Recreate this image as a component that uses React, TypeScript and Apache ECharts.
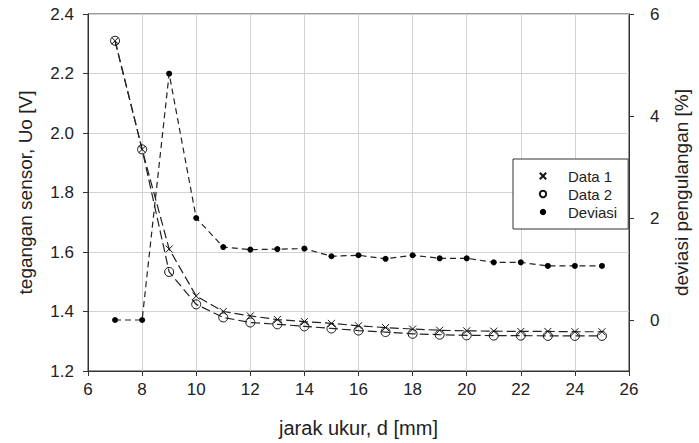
import React, { useEffect, useRef } from "react";
import * as echarts from "echarts";

const distances = [7, 8, 9, 10, 11, 12, 13, 14, 15, 16, 17, 18, 19, 20, 21, 22, 23, 24, 25];
const data1 = [2.31, 1.945, 1.61, 1.452, 1.4, 1.385, 1.373, 1.366, 1.36, 1.352, 1.346, 1.341, 1.337, 1.335, 1.334, 1.333, 1.333, 1.332, 1.332];
const data2 = [2.31, 1.945, 1.533, 1.424, 1.38, 1.363, 1.357, 1.35, 1.343, 1.336, 1.331, 1.325, 1.322, 1.32, 1.319, 1.319, 1.318, 1.318, 1.318];
const deviasi = [0, 0, 4.83, 2.0, 1.43, 1.38, 1.39, 1.4, 1.25, 1.27, 1.2, 1.27, 1.21, 1.21, 1.13, 1.13, 1.06, 1.06, 1.06];
const rightTicks = [0, 2, 4, 6];

const FONT = "Liberation Sans, Arial, sans-serif";
const CROSS = "path://M0,0L10,10M10,0L0,10";

export default function App() {
  const ref = useRef<HTMLDivElement>(null);
  useEffect(() => {
    if (!ref.current) return;
    const chart = echarts.init(ref.current, undefined, { renderer: "svg" });
    const pairs = (ys: number[]) => distances.map((x, i) => [x, ys[i]]);
    chart.setOption({
      animation: false,
      backgroundColor: "#fff",
      textStyle: { fontFamily: FONT },
      grid: {
        left: 88,
        right: 62,
        top: 14,
        bottom: 69,
        show: true,
        borderColor: "#333",
        borderWidth: 1,
        backgroundColor: "transparent",
      },
      legend: {
        orient: "vertical",
        left: 513,
        top: 159,
        padding: [9, 11, 9, 9],
        itemGap: 2,
        itemWidth: 40,
        itemHeight: 8,
        borderColor: "#333",
        borderWidth: 1,
        backgroundColor: "#fff",
        lineStyle: { opacity: 0 },
        textStyle: { fontSize: 15, color: "#222", fontFamily: FONT, lineHeight: 16 },
        data: ["Data 1", "Data 2", "Deviasi"],
      },
      xAxis: {
        type: "value",
        min: 6,
        max: 26,
        interval: 2,
        name: "jarak ukur, d [mm]",
        nameLocation: "middle",
        nameGap: 47,
        nameTextStyle: { fontSize: 20, color: "#222", fontFamily: FONT },
        axisLine: { show: true, onZero: false, lineStyle: { color: "#333", width: 1 } },
        axisTick: { show: true, inside: false, length: 5, lineStyle: { color: "#333" } },
        axisLabel: { fontSize: 17, color: "#222", margin: 10, fontFamily: FONT },
        splitLine: { show: true, lineStyle: { color: "#d3d3d3", width: 1 } },
      },
      yAxis: [
        {
          type: "value",
          min: 1.2,
          max: 2.4,
          interval: 0.2,
          position: "left",
          name: "tegangan sensor, Uo [V]",
          nameLocation: "middle",
          nameRotate: 90,
          nameGap: 53,
          nameTextStyle: { fontSize: 19, color: "#222", fontFamily: FONT },
          axisLine: { show: true, onZero: false, lineStyle: { color: "#333", width: 1 } },
          axisTick: { show: true, inside: false, length: 5, lineStyle: { color: "#333" } },
          axisLabel: {
            fontSize: 17,
            color: "#222",
            margin: 14,
            fontFamily: FONT,
            formatter: (v: number) => v.toFixed(1),
          },
          splitLine: { show: true, lineStyle: { color: "#d3d3d3", width: 1 } },
        },
        {
          type: "value",
          min: -1,
          max: 6,
          interval: 1,
          position: "right",
          name: "deviasi pengulangan [%]",
          nameLocation: "middle",
          nameRotate: 90,
          nameGap: 43,
          nameTextStyle: { fontSize: 19, color: "#222", fontFamily: FONT },
          axisLine: { show: true, onZero: false, lineStyle: { color: "#333", width: 1 } },
          axisTick: { show: true, inside: false, length: 5, customValues: rightTicks, lineStyle: { color: "#333" } },
          axisLabel: { fontSize: 17, color: "#222", margin: 21, fontFamily: FONT, customValues: rightTicks },
          splitLine: { show: false },
        },
      ],
      series: [
        {
          name: "Data 1",
          type: "line",
          yAxisIndex: 0,
          data: pairs(data1),
          symbol: CROSS,
          symbolSize: 7,
          showAllSymbol: true,
          lineStyle: { color: "#222", width: 1.2, type: [9, 4] },
          itemStyle: { color: "rgba(0,0,0,0)", borderColor: "#111", borderWidth: 1 },
          z: 3,
        },
        {
          name: "Data 2",
          type: "line",
          yAxisIndex: 0,
          data: pairs(data2),
          symbol: "circle",
          symbolSize: 9,
          showAllSymbol: true,
          lineStyle: { color: "#222", width: 1.2, type: [9, 4] },
          itemStyle: { color: "rgba(0,0,0,0)", borderColor: "#111", borderWidth: 1 },
          z: 3,
        },
        {
          name: "Deviasi",
          type: "line",
          yAxisIndex: 1,
          data: pairs(deviasi),
          symbol: "circle",
          symbolSize: 6,
          showAllSymbol: true,
          lineStyle: { color: "#222", width: 1.2, type: [6, 4] },
          itemStyle: { color: "#000", borderColor: "#000", borderWidth: 0 },
          z: 3,
        },
      ],
    });
    return () => chart.dispose();
  }, []);
  return (
    <div
      ref={ref}
      style={{ position: "absolute", left: 0, top: 0, width: 699, height: 443 }}
    />
  );
}
